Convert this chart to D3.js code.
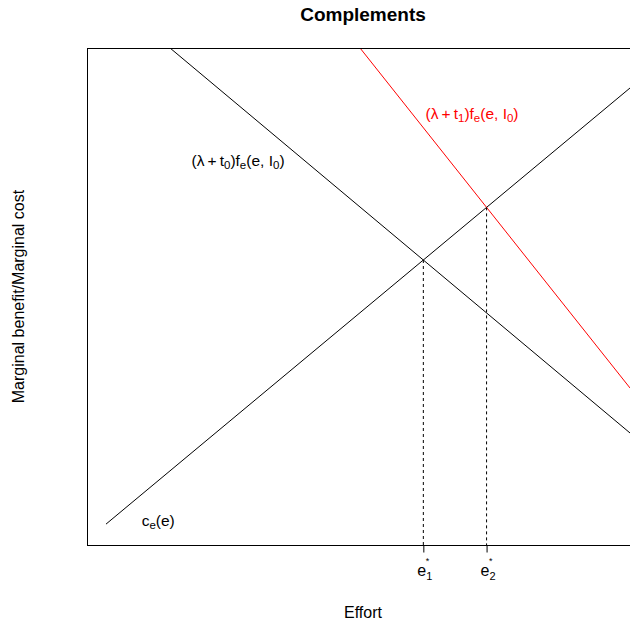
<!DOCTYPE html>
<html>
<head>
<meta charset="utf-8">
<script src="https://cdn.jsdelivr.net/npm/d3@7"></script>
<style>
  body { margin: 0; background: #fff; }
  text { font-family: "Liberation Sans", Arial, sans-serif; }
</style>
</head>
<body>
<div id="visContainer"></div>
<script>
'use strict';
// chart values (data units, both axes 0..10)
var costLine = [[0.344, 0.42], [9.837, 9.195]];      // c_e(e)
var benefit0 = [[1.504, 10], [9.837, 2.254]];        // (lambda+t0) f_e(e, I0)
var benefit1 = [[4.946, 10], [9.837, 3.159]];        // (lambda+t1) f_e(e, I0)
var lineColors = ['black', 'black', 'red'];
var tickSubs = ['1', '2'];                            // e*_1, e*_2
var labelPos = { cost: [1.29, 0.5], b0: [2.736, 7.75], b1: [6.975, 8.69] };

var width = 630, height = 624;
var padding = { top: 48, right: -9, bottom: 79, left: 87 };

var svg = d3.select('#visContainer')
    .append('svg')
    .attr('width', width)
    .attr('height', height);

var x = d3.scaleLinear().domain([0, 10]).range([padding.left, width - padding.right]);
var y = d3.scaleLinear().domain([0, 10]).range([height - padding.bottom, padding.top]);

svg.append('clipPath').attr('id', 'plotClip')
  .append('rect')
    .attr('x', x(0)).attr('y', y(10))
    .attr('width', x(10) - x(0)).attr('height', y(0) - y(10));

//intersection of two straight lines given by two points each
function crossing(a, b) {
  var m1 = (a[1][1] - a[0][1]) / (a[1][0] - a[0][0]);
  var m2 = (b[1][1] - b[0][1]) / (b[1][0] - b[0][0]);
  var xi = (b[0][1] - a[0][1] + m1 * a[0][0] - m2 * b[0][0]) / (m1 - m2);
  return [xi, a[0][1] + m1 * (xi - a[0][0])];
}
var eq = [crossing(costLine, benefit0), crossing(costLine, benefit1)];

var line = d3.line().x(function(d) { return x(d[0]); }).y(function(d) { return y(d[1]); });

var plot = svg.append('g').attr('clip-path', 'url(#plotClip)');
[costLine, benefit0, benefit1].forEach(function(d, i) {
  plot.append('path')
    .attr('d', line(d))
    .attr('fill', 'none')
    .attr('stroke', lineColors[i])
    .attr('stroke-width', 1);
});

// dashed drops from the equilibria to the axis
plot.selectAll('.drop').data(eq).enter().append('line')
    .attr('class', 'drop')
    .attr('x1', function(d) { return x(d[0]); })
    .attr('x2', function(d) { return x(d[0]); })
    .attr('y1', function(d) { return y(d[1]); })
    .attr('y2', y(0))
    .attr('stroke', 'black')
    .attr('stroke-dasharray', '3,3');

// box
svg.append('rect')
    .attr('x', x(0) + 0.5).attr('y', y(10) + 0.5)
    .attr('width', x(10) - x(0)).attr('height', y(0) - y(10))
    .attr('fill', 'none').attr('stroke', 'black');

// bottom axis with the two equilibrium ticks
var xAxis = d3.axisBottom(x)
    .tickValues(eq.map(function(d) { return d[0]; }))
    .tickSize(7)
    .tickFormat('');
var gx = svg.append('g')
    .attr('transform', 'translate(0,' + (y(0) + 0.5) + ')')
    .call(xAxis);
gx.select('.domain').remove();

var tickLab = svg.selectAll('.elab').data(eq).enter().append('text')
    .attr('class', 'elab')
    .attr('x', function(d) { return x(d[0]) - 6; })
    .attr('y', 576)
    .attr('font-size', '16px');
tickLab.append('tspan').text('e');
tickLab.append('tspan').attr('font-size', '11px').attr('dy', 4)
    .text(function(d, i) { return tickSubs[i]; });
tickLab.append('tspan').attr('font-size', '9px').attr('dx', -6.5).attr('dy', -16).text('*');

// curve labels: pieces of [text, isSubscript]
function mathLabel(pos, color, parts, fs) {
  var t = svg.append('text')
      .attr('x', x(pos[0])).attr('y', y(pos[1]) + 6)
      .attr('text-anchor', 'middle')
      .attr('font-size', fs + 'px')
      .attr('fill', color);
  var low = false;
  parts.forEach(function(p) {
    var dy = 0;
    if (p[1] && !low) dy = 3;
    if (!p[1] && low) dy = -3;
    low = p[1];
    t.append('tspan')
      .attr('dy', dy)
      .attr('font-size', p[1] ? (fs - 4) + 'px' : null)
      .text(p[0]);
  });
  return t;
}
mathLabel(labelPos.b0, 'black',
  [['(\u03BB\u2009+\u2009t', 0], ['0', 1], [')f', 0], ['e', 1], ['(e, I', 0], ['0', 1], [')', 0]], 15.5);
mathLabel(labelPos.b1, 'red',
  [['(\u03BB\u2009+\u2009t', 0], ['1', 1], [')f', 0], ['e', 1], ['(e, I', 0], ['0', 1], [')', 0]], 15.5);
mathLabel(labelPos.cost, 'black', [['c', 0], ['e', 1], ['(e)', 0]], 15.5);

// title and axis titles
svg.append('text')
    .attr('x', (x(0) + x(10)) / 2).attr('y', 21)
    .attr('text-anchor', 'middle')
    .attr('font-size', '19px').attr('font-weight', 'bold')
    .text('Complements');
svg.append('text')
    .attr('x', (x(0) + x(10)) / 2).attr('y', 618)
    .attr('text-anchor', 'middle')
    .attr('font-size', '16px')
    .text('Effort');
svg.append('text')
    .attr('transform', 'translate(24,' + ((y(0) + y(10)) / 2) + ') rotate(-90)')
    .attr('text-anchor', 'middle')
    .attr('font-size', '16px')
    .text('Marginal benefit/Marginal cost');
</script>
</body>
</html>
